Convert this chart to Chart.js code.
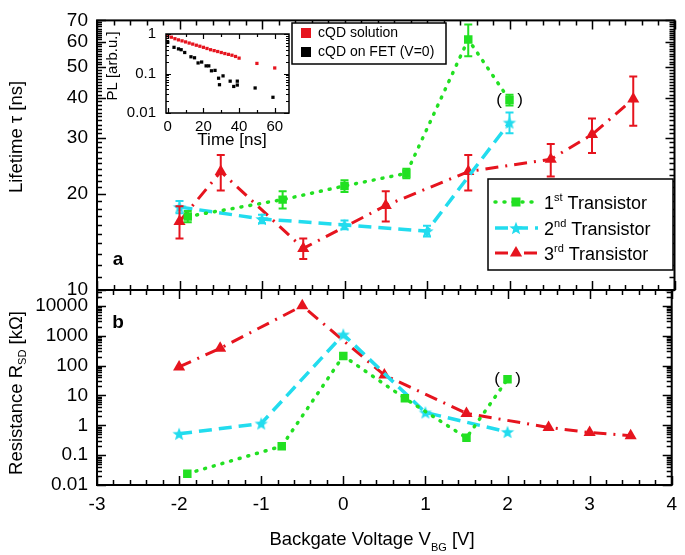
<!DOCTYPE html>
<html>
<head>
<meta charset="utf-8">
<script src="https://cdn.jsdelivr.net/npm/chart.js@4.4.1/dist/chart.umd.min.js"></script>
<style>
  body { margin: 0; background: #fff; }
  #wrap { position: relative; width: 685px; height: 555px; }
  canvas { position: absolute; }
</style>
</head>
<body>
<div id="wrap">
  <canvas id="topChart" width="685" height="555" style="left:0;top:0"></canvas>
  <canvas id="botChart" width="685" height="555" style="left:0;top:0"></canvas>
  <canvas id="insetChart" width="195" height="135" style="left:100px;top:15px"></canvas>
</div>
<script>
// --- data ---
const xTicks = [-3, -2, -1, 0, 1, 2, 3, 4];
const tauTicks = [10, 20, 30, 40, 50, 60, 70];
const resTicks = [0.01, 0.1, 1, 10, 100, 1000, 10000];
const timeTicks = [0, 20, 40, 60];
const plTicks = [0.01, 0.1, 1];

// 1st transistor
const t1V = [-1.9, -0.75, 0, 0.75, 1.5, 2];
const t1Tau = [17, 19.2, 21.2, 23.2, 61, 39.4];
const t1TauErr = [0.7, 1.2, 0.9, 0.8, 7, 1.5];
const t1R = [0.024, 0.2, 210, 8, 0.38, 35];

// 2nd transistor
const t2V = [-2, -1, 0, 1, 2];
const t2Tau = [18.2, 16.7, 16, 15.3, 33.5];
const t2TauErr = [0.8, 0.5, 0.5, 0.6, 2.5];
const t2R = [0.52, 1.15, 1100, 2.7, 0.6];

// 3rd transistor
const t3V = [-2, -1.5, -0.5, 0.5, 1.5, 2.5, 3, 3.5];
const t3Tau = [16.4, 23.5, 13.5, 18.4, 23.5, 25.7, 30.7, 39.7];
const t3TauErr = [1.9, 3, 1, 2, 3, 3, 3.8, 7];
const t3R = [90, 380, 10000, 48, 2.5, 0.85, 0.57, 0.45];

// inset: PL decay
const solT = [0, 2, 4, 6, 8, 10, 12, 14, 16, 18, 20, 22, 24, 26, 28, 30, 32, 34, 36, 38, 40, 50, 60];
const solPL = [0.9, 0.83, 0.76, 0.71, 0.67, 0.63, 0.59, 0.555, 0.52, 0.49, 0.46, 0.43, 0.4, 0.38, 0.36, 0.34, 0.32, 0.305, 0.29, 0.27, 0.245, 0.18, 0.138];
const fetT = [0, 3.5, 6, 7.5, 9.5, 13, 15, 17, 19, 21.5, 23, 24.5, 26.5, 28.5, 29, 31, 35, 37, 39, 39, 49, 59];
const fetPL = [0.62, 0.46, 0.42, 0.4, 0.34, 0.265, 0.25, 0.185, 0.195, 0.156, 0.156, 0.117, 0.12, 0.076, 0.052, 0.087, 0.064, 0.047, 0.064, 0.051, 0.043, 0.025];

const FONT = '"Liberation Sans", Arial, sans-serif';
const GREEN = '#22e022', CYAN = '#22dcee', RED = '#e6141e';

Chart.defaults.font.family = FONT;
Chart.defaults.color = '#000';

function pts(xs, ys) { return xs.map((x, i) => ({ x: x, y: ys[i] })); }
function range(a, b, step) {
  const out = [];
  for (let v = a; v <= b + 1e-9; v += step) out.push(+v.toFixed(6));
  return out;
}
function logMinor(lo, hi) {
  const out = [];
  for (let d = lo; d < hi; d *= 10)
    for (let k = 1; k < 10; k++) {
      const v = +(d * k).toPrecision(6);
      if (v <= hi) out.push(v);
    }
  return out;
}

function starPath(g, cx, cy, R) {
  g.beginPath();
  for (let i = 0; i < 10; i++) {
    const r = i % 2 ? R * 0.42 : R;
    const a = -Math.PI / 2 + i * Math.PI / 5;
    g.lineTo(cx + r * Math.cos(a), cy + r * Math.sin(a));
  }
  g.closePath();
}
function starImage(R, color) {
  const c = document.createElement('canvas');
  c.width = c.height = Math.ceil(2 * R + 2);
  const g = c.getContext('2d');
  starPath(g, c.width / 2, c.height / 2 + R * 0.1, R);
  g.fillStyle = color;
  g.fill();
  return c;
}
const starPt = starImage(7, CYAN);

// text with sub/superscripts: parts = [text, size, dy]
function richWidth(ctx, parts) {
  let w = 0;
  parts.forEach(p => { ctx.font = p[1] + 'px ' + FONT; w += ctx.measureText(p[0]).width; });
  return w;
}
function richText(ctx, x, y, parts) {
  ctx.textAlign = 'left';
  parts.forEach(p => {
    ctx.font = p[1] + 'px ' + FONT;
    ctx.fillText(p[0], x, y + p[2]);
    x += ctx.measureText(p[0]).width;
  });
}

// frame with inward ticks on all four sides
function makeFrame(cfg) {
  return {
    id: 'frame',
    afterDraw(chart) {
      const ctx = chart.ctx, a = chart.chartArea;
      const xs = chart.scales.x, ys = chart.scales.y;
      ctx.save();
      ctx.strokeStyle = '#000';
      ctx.lineWidth = cfg.tickWidth;
      ctx.beginPath();
      const xt = (list, len) => list.forEach(v => {
        const p = Math.round(xs.getPixelForValue(v)) + 0.5;
        ctx.moveTo(p, a.bottom); ctx.lineTo(p, a.bottom - len);
        ctx.moveTo(p, a.top); ctx.lineTo(p, a.top + len);
      });
      const yt = (list, len) => list.forEach(v => {
        const p = Math.round(ys.getPixelForValue(v)) + 0.5;
        ctx.moveTo(a.left, p); ctx.lineTo(a.left + len, p);
        ctx.moveTo(a.right, p); ctx.lineTo(a.right - len, p);
      });
      xt(cfg.xMinor, cfg.minor); xt(cfg.xMajor, cfg.major);
      yt(cfg.yMinor, cfg.minor); yt(cfg.yMajor, cfg.major);
      ctx.stroke();
      ctx.lineWidth = cfg.width;
      ctx.strokeRect(a.left, a.top, a.right - a.left, a.bottom - a.top);
      ctx.restore();
    }
  };
}

const errorBars = {
  id: 'errorBars',
  afterDatasetsDraw(chart) {
    const ctx = chart.ctx, ys = chart.scales.y;
    chart.data.datasets.forEach((ds, i) => {
      if (!ds.err) return;
      const meta = chart.getDatasetMeta(i);
      ctx.save();
      ctx.strokeStyle = ds.borderColor;
      ctx.lineWidth = 2;
      ctx.beginPath();
      meta.data.forEach((pt, j) => {
        const v = ds.data[j].y, e = ds.err[j];
        const y1 = ys.getPixelForValue(v + e), y2 = ys.getPixelForValue(v - e);
        ctx.moveTo(pt.x, y1); ctx.lineTo(pt.x, y2);
        ctx.moveTo(pt.x - 4, y1); ctx.lineTo(pt.x + 4, y1);
        ctx.moveTo(pt.x - 4, y2); ctx.lineTo(pt.x + 4, y2);
      });
      ctx.stroke();
      ctx.restore();
    });
  }
};

function parens(chart, xv, yv) {
  const ctx = chart.ctx;
  const px = chart.scales.x.getPixelForValue(xv), py = chart.scales.y.getPixelForValue(yv);
  ctx.save();
  ctx.fillStyle = '#000';
  ctx.font = '17px ' + FONT;
  ctx.textAlign = 'center';
  ctx.textBaseline = 'middle';
  ctx.fillText('(', px - 10.5, py);
  ctx.fillText(')', px + 10.5, py);
  ctx.restore();
}

function seriesSet(ys1, ys2, ys3, withErr) {
  return [
    { data: pts(t1V, ys1), err: withErr ? t1TauErr : null, borderColor: GREEN, backgroundColor: GREEN,
      borderWidth: 3.5, borderDash: [1, 8], borderCapStyle: 'round', showLine: true,
      pointStyle: 'rect', pointRadius: 6, pointBorderWidth: 0 },
    { data: pts(t2V, ys2), err: withErr ? t2TauErr : null, borderColor: CYAN, backgroundColor: CYAN,
      borderWidth: 3.5, borderDash: [13, 7], showLine: true,
      pointStyle: starPt, pointRadius: 7 },
    { data: pts(t3V, ys3), err: withErr ? t3TauErr : null, borderColor: RED, backgroundColor: RED,
      borderWidth: 3, borderDash: [13, 7, 2, 7], showLine: true,
      pointStyle: 'triangle', pointRadius: 7, pointBorderWidth: 0 }
  ];
}

const xScaleBase = { type: 'linear', min: -3, max: 4 };
const yLabelOpts = { color: '#000', font: { size: 19 }, padding: 9, callback: v => String(v) };

// --- top panel: lifetime ---
const topDecor = {
  id: 'topDecor',
  afterDraw(chart) {
    const ctx = chart.ctx;
    parens(chart, 2, 39.4);
    ctx.save();
    ctx.fillStyle = '#000';
    // panel label
    ctx.font = 'bold 19px ' + FONT;
    ctx.textAlign = 'center'; ctx.textBaseline = 'middle';
    ctx.fillText('a', 118, 260);
    // y title
    ctx.save();
    ctx.translate(17, 137); ctx.rotate(-Math.PI / 2);
    ctx.font = '18.5px ' + FONT;
    ctx.fillText('Lifetime \u03c4 [ns]', 0, 0);
    ctx.restore();

    // main legend
    ctx.fillStyle = '#fff';
    ctx.fillRect(488, 179, 185, 91);
    ctx.strokeStyle = '#000'; ctx.lineWidth = 1.5;
    ctx.strokeRect(488, 179, 185, 91);
    const rows = [
      { y: 202, c: GREEN, dash: [1, 8], w: 3.5, m: 'rect', n: '1', s: 'st' },
      { y: 228, c: CYAN, dash: [13, 7], w: 3.5, m: 'star', n: '2', s: 'nd' },
      { y: 253, c: RED, dash: [13, 7, 2, 7], w: 3, m: 'tri', n: '3', s: 'rd' }
    ];
    rows.forEach(r => {
      ctx.save();
      ctx.strokeStyle = r.c; ctx.lineWidth = r.w; ctx.lineCap = r.m === 'rect' ? 'round' : 'butt';
      ctx.setLineDash(r.dash);
      ctx.beginPath(); ctx.moveTo(495, r.y); ctx.lineTo(538, r.y); ctx.stroke();
      ctx.restore();
      ctx.fillStyle = r.c;
      if (r.m === 'rect') ctx.fillRect(511.5, r.y - 4.5, 9, 9);
      if (r.m === 'star') ctx.drawImage(starPt, 516 - starPt.width / 2, r.y - starPt.height / 2);
      if (r.m === 'tri') {
        ctx.beginPath();
        ctx.moveTo(516, r.y - 7); ctx.lineTo(522.1, r.y + 3.5); ctx.lineTo(509.9, r.y + 3.5);
        ctx.closePath(); ctx.fill();
      }
      ctx.fillStyle = '#000';
      ctx.textBaseline = 'alphabetic';
      richText(ctx, 544, r.y + 6.5, [[r.n, 18, 0], [r.s, 11, -8], [' Transistor', 18, 0]]);
    });

    // inset legend
    ctx.fillStyle = '#fff';
    ctx.fillRect(292, 23, 154, 41);
    ctx.strokeStyle = '#000'; ctx.lineWidth = 1.5;
    ctx.strokeRect(292, 23, 154, 41);
    ctx.fillStyle = RED; ctx.fillRect(301, 28, 10, 10);
    ctx.fillStyle = '#000'; ctx.fillRect(301, 47, 10, 10);
    ctx.font = '14px ' + FONT; ctx.textAlign = 'left'; ctx.textBaseline = 'middle';
    ctx.fillText('cQD solution', 318, 33.5);
    ctx.fillText('cQD on FET (V=0)', 318, 52.5);
    ctx.restore();
  }
};

new Chart(document.getElementById('topChart'), {
  type: 'scatter',
  data: { datasets: seriesSet(t1Tau, t2Tau, t3Tau, true) },
  options: {
    responsive: false, animation: false,
    layout: { padding: { left: 0, right: 8, top: 12, bottom: 265 } },
    plugins: { legend: { display: false }, tooltip: { enabled: false } },
    scales: {
      x: Object.assign({}, xScaleBase, { display: false }),
      y: {
        type: 'logarithmic', min: 10, max: 70,
        afterFit(s) { s.width = 97; },
        afterBuildTicks(s) { s.ticks = tauTicks.map(v => ({ value: v })); },
        grid: { display: false, drawTicks: false }, border: { display: false },
        ticks: yLabelOpts
      }
    }
  },
  plugins: [errorBars, makeFrame({ xMajor: xTicks, xMinor: range(-3, 4, 0.2), yMajor: tauTicks,
    yMinor: range(10, 70, 1), major: 9, minor: 5, width: 2, tickWidth: 1.5 }), topDecor]
});

// --- bottom panel: resistance ---
const botDecor = {
  id: 'botDecor',
  afterDraw(chart) {
    const ctx = chart.ctx;
    parens(chart, 2, 35);
    ctx.save();
    ctx.fillStyle = '#000';
    ctx.font = 'bold 19px ' + FONT;
    ctx.textAlign = 'center'; ctx.textBaseline = 'middle';
    ctx.fillText('b', 118, 323);
    // y title
    ctx.save();
    ctx.translate(17, 393); ctx.rotate(-Math.PI / 2);
    const yParts = [['Resistance R', 18.5, 0], ['SD', 11, 6], [' [k\u03a9]', 18.5, 0]];
    ctx.textBaseline = 'middle';
    richText(ctx, -richWidth(ctx, yParts) / 2, 0, yParts);
    ctx.restore();
    // x title
    const xParts = [['Backgate Voltage V', 18.5, 0], ['BG', 11, 6], [' [V]', 18.5, 0]];
    ctx.textBaseline = 'alphabetic';
    richText(ctx, 372 - richWidth(ctx, xParts) / 2, 545, xParts);
    ctx.restore();
  }
};

new Chart(document.getElementById('botChart'), {
  type: 'scatter',
  data: { datasets: seriesSet(t1R, t2R, t3R, false) },
  options: {
    responsive: false, animation: false,
    layout: { padding: { left: 0, right: 8, top: 290, bottom: 0 } },
    plugins: { legend: { display: false }, tooltip: { enabled: false } },
    scales: {
      x: Object.assign({}, xScaleBase, {
        afterFit(s) { s.height = 70; },
        afterBuildTicks(s) { s.ticks = xTicks.map(v => ({ value: v })); },
        grid: { display: false, drawTicks: false }, border: { display: false },
        ticks: { color: '#000', font: { size: 19 }, padding: 8, maxRotation: 0, callback: v => String(v) }
      }),
      y: {
        type: 'logarithmic', min: 0.01, max: 34000,
        afterFit(s) { s.width = 97; },
        afterBuildTicks(s) { s.ticks = resTicks.map(v => ({ value: v })); },
        grid: { display: false, drawTicks: false }, border: { display: false },
        ticks: yLabelOpts
      }
    }
  },
  plugins: [makeFrame({ xMajor: xTicks, xMinor: range(-3, 4, 0.2), yMajor: resTicks,
    yMinor: logMinor(0.01, 34000), major: 9, minor: 5, width: 2, tickWidth: 1.5 }), botDecor]
});

// --- inset: PL decay ---
const insetDecor = {
  id: 'insetDecor',
  afterDraw(chart) {
    const ctx = chart.ctx;
    ctx.save();
    ctx.fillStyle = '#000';
    ctx.textAlign = 'center'; ctx.textBaseline = 'middle';
    ctx.font = '17px ' + FONT;
    ctx.fillText('Time [ns]', 132, 125);
    ctx.translate(13, 51); ctx.rotate(-Math.PI / 2);
    ctx.font = '15px ' + FONT;
    ctx.fillText('PL [arb.u.]', 0, 0);
    ctx.restore();
  }
};

new Chart(document.getElementById('insetChart'), {
  type: 'scatter',
  data: {
    datasets: [
      { data: pts(solT, solPL), backgroundColor: RED, borderWidth: 0, pointStyle: 'rect', pointRadius: 2.3 },
      { data: pts(fetT, fetPL), backgroundColor: '#000', borderWidth: 0, pointStyle: 'rect', pointRadius: 2.3 }
    ]
  },
  options: {
    responsive: false, animation: false,
    layout: { padding: { left: 0, right: 6, top: 8, bottom: 0 } },
    plugins: { legend: { display: false }, tooltip: { enabled: false } },
    scales: {
      x: {
        type: 'linear', min: -1, max: 68,
        afterFit(s) { s.height = 37; },
        afterBuildTicks(s) { s.ticks = timeTicks.map(v => ({ value: v })); },
        grid: { display: false, drawTicks: false }, border: { display: false },
        ticks: { color: '#000', font: { size: 15 }, padding: 5, maxRotation: 0, callback: v => String(v) }
      },
      y: {
        type: 'logarithmic', min: 0.01, max: 1,
        afterFit(s) { s.width = 66; },
        afterBuildTicks(s) { s.ticks = plTicks.map(v => ({ value: v })); },
        grid: { display: false, drawTicks: false }, border: { display: false },
        ticks: { color: '#000', font: { size: 15 }, padding: 10, callback: v => String(v) }
      }
    }
  },
  plugins: [makeFrame({ xMajor: timeTicks, xMinor: [10, 30, 50], yMajor: plTicks,
    yMinor: logMinor(0.01, 1), major: 5, minor: 3, width: 1.5, tickWidth: 1.2 }), insetDecor]
});
</script>
</body>
</html>
